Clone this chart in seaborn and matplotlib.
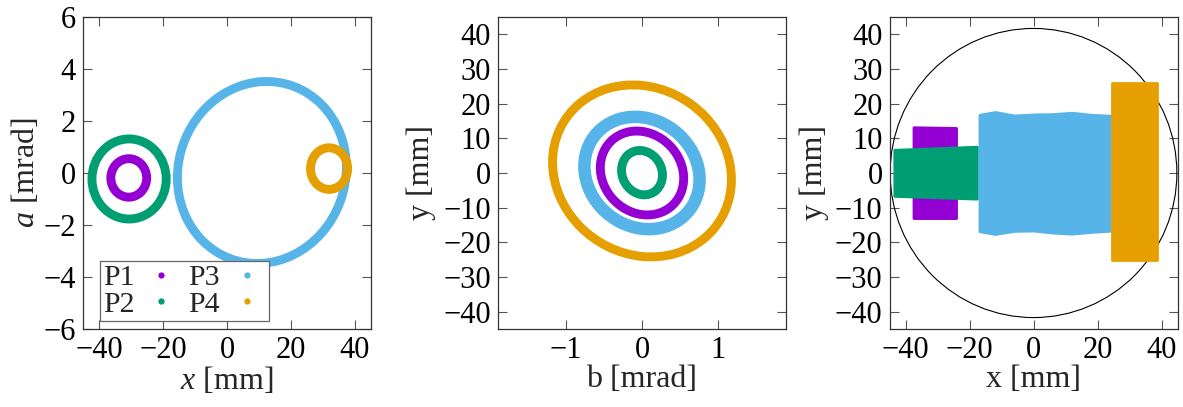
import matplotlib
matplotlib.use("Agg")
import matplotlib.pyplot as plt
from matplotlib.patches import Circle, Ellipse
from matplotlib.transforms import Affine2D
from matplotlib.lines import Line2D
import seaborn as sns

groups = ["P1", "P2", "P3", "P4"]
colors = ["#9400D3", "#009E73", "#56B4E9", "#E69F00"]

# Horizontal phase space (x [mm], a [mrad]): ring centre, half-extents, x-shift of the top point
hor_cx = [-30.7, -30.6, 10.9, 31.9]
hor_cy = [-0.19, -0.23, 0.02, 0.17]
hor_rx = [5.6, 11.6, 26.4, 5.8]
hor_ry = [0.74, 1.54, 3.50, 0.80]
hor_top = [0.0, 0.0, 1.5, 0.0]

# Vertical phase space (b [mrad], y [mm])
ver_cx = [0.0, 0.0, 0.0, 0.0]
ver_cy = [0.0, 0.1, 0.0, 0.6]
ver_rx = [0.55, 0.27, 0.76, 1.18]
ver_ry = [12.1, 6.4, 16.2, 24.8]
ver_top = [-0.07, -0.03, -0.09, -0.12]

# Beam footprints in the aperture plane (x [mm], y [mm])
p1_x = [-37.5, -24.2]
p1_lo = [-13.0, -13.0]
p1_hi = [13.2, 13.0]
p2_x = [-43.5, -17.7]
p2_lo = [-6.6, -7.4]
p2_hi = [6.7, 7.6]
p3_x = [-16.9, -12.0, -6.0, 0.0, 6.0, 12.0, 18.0, 24.8]
p3_lo = [-16.8, -17.6, -16.7, -16.6, -17.2, -17.5, -17.0, -16.6]
p3_hi = [16.8, 17.6, 16.6, 16.9, 17.0, 17.4, 16.8, 16.5]
p4_x = [24.5, 38.7]
p4_lo = [-25.2, -25.2]
p4_hi = [26.0, 26.0]
aperture_rx = 44.8
aperture_ry = 41.7

sns.set_theme(style="ticks")
plt.rcParams["font.family"] = ["Liberation Serif", "DejaVu Serif"]
plt.rcParams["mathtext.fontset"] = "custom"
plt.rcParams["mathtext.rm"] = "Liberation Serif"
plt.rcParams["mathtext.it"] = "Liberation Serif:italic"
plt.rcParams["axes.unicode_minus"] = True

FS = 22
LFS = 23
frame_col = "#333333"

fig = plt.figure(figsize=(11.83, 4.07), dpi=100)
boxes = [
    [83 / 1183, 78 / 407, 288 / 1183, 312 / 407],
    [498 / 1183, 78 / 407, 288 / 1183, 312 / 407],
    [889.5 / 1183, 78 / 407, 288 / 1183, 312 / 407],
]
axes = [fig.add_axes(b) for b in boxes]


def style(ax):
    ax.tick_params(direction="in", length=6.5, width=0.8, color="#555555",
                   top=True, right=True, labelsize=FS, pad=5, labelcolor="black")
    for s in ax.spines.values():
        s.set_color(frame_col)
        s.set_linewidth(0.9)
    ax.set_facecolor("white")


def ring(ax, cx, cy, rx, ry, top, color, lw):
    # unit circle mapped to a sheared ellipse in data space
    m21 = top * ry / rx
    m22 = (ry ** 2 - m21 ** 2) ** 0.5
    tr = Affine2D.from_values(rx, m21, 0.0, m22, cx, cy) + ax.transData
    ax.add_patch(Circle((0, 0), 1.0, transform=tr, fill=False,
                        edgecolor=color, linewidth=lw))


# Panel 1: horizontal phase space
ax = axes[0]
for i, g in enumerate(groups):
    ring(ax, hor_cx[i], hor_cy[i], hor_rx[i], hor_ry[i], hor_top[i], colors[i], 6.4)
ax.set_xlim(-45, 45)
ax.set_ylim(-6, 6)
ax.set_xticks([-40, -20, 0, 20, 40])
ax.set_yticks([-6, -4, -2, 0, 2, 4, 6])
ax.set_xlabel(r"$x$ [mm]", fontsize=LFS, labelpad=0)
ax.set_ylabel(r"$a$ [mrad]", fontsize=LFS, labelpad=2)
style(ax)
handles = [Line2D([], [], ls="", marker="o", ms=4.5, mec="none", color=c) for c in colors]
leg = ax.legend(handles, groups, ncol=2, loc="lower left",
                bbox_to_anchor=(0.059, 0.026), borderaxespad=0,
                markerfirst=False, fontsize=21.5, frameon=True, fancybox=False,
                framealpha=1, edgecolor="#666666", handlelength=1.3,
                handletextpad=0.25, columnspacing=0.25, borderpad=0.1,
                labelspacing=0.0)
leg.get_frame().set_linewidth(0.9)
leg.set_zorder(5)

# Panel 2: vertical phase space
ax = axes[1]
for i, g in enumerate(groups):
    lw = 9.0 if g == "P3" else 6.4
    ring(ax, ver_cx[i], ver_cy[i], ver_rx[i], ver_ry[i], ver_top[i], colors[i], lw)
ax.set_xlim(-1.9, 1.9)
ax.set_ylim(-45, 45)
ax.set_xticks([-1, 0, 1])
ax.set_yticks(range(-40, 41, 10))
ax.set_xlabel("b [mrad]", fontsize=LFS, labelpad=0)
ax.set_ylabel("y [mm]", fontsize=LFS, labelpad=5)
style(ax)

# Panel 3: footprints inside the aperture
ax = axes[2]
ax.add_patch(Ellipse((0, 0), 2 * aperture_rx, 2 * aperture_ry, fill=False,
                     edgecolor="black", linewidth=0.8))
for xs, lo, hi, c in [(p1_x, p1_lo, p1_hi, colors[0]),
                      (p2_x, p2_lo, p2_hi, colors[1]),
                      (p3_x, p3_lo, p3_hi, colors[2]),
                      (p4_x, p4_lo, p4_hi, colors[3])]:
    ax.fill_between(xs, lo, hi, color=c, linewidth=2.0, edgecolor=c,
                    joinstyle="round")
ax.set_xlim(-45, 45)
ax.set_ylim(-45, 45)
ax.set_xticks([-40, -20, 0, 20, 40])
ax.set_yticks(range(-40, 41, 10))
ax.set_xlabel("x [mm]", fontsize=LFS, labelpad=0)
ax.set_ylabel("y [mm]", fontsize=LFS, labelpad=4)
style(ax)

fig.savefig("out.png", dpi=100)
